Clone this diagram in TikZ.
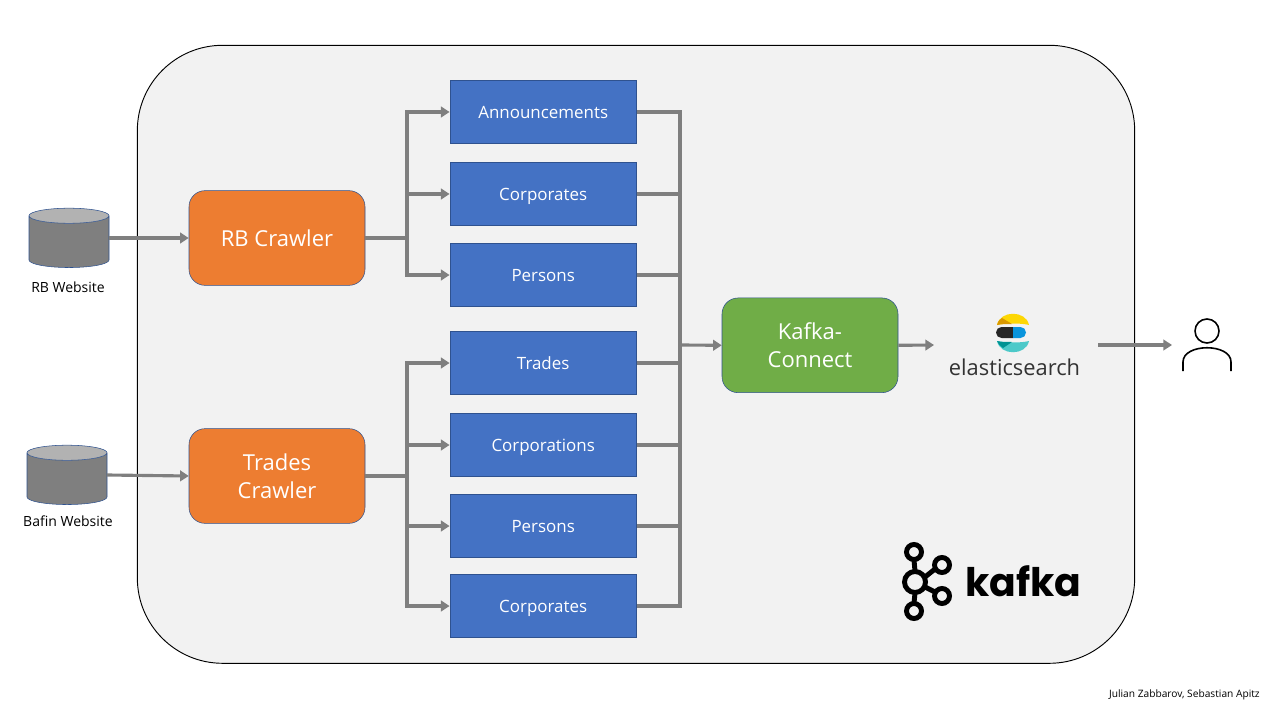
\documentclass[tikz,border=0pt]{standalone}
\usepackage{fontspec}
\setmainfont{Open Sans}
\newfontfamily\logofont{Poppins}
\usetikzlibrary{shapes,arrows.meta}
\definecolor{topicblue}{HTML}{4472C4}
\definecolor{edgeblue}{HTML}{2F528F}
\definecolor{crawlerorange}{HTML}{ED7D31}
\definecolor{connectgreen}{HTML}{70AD47}
\definecolor{flowgray}{HTML}{7F7F7F}
\definecolor{panelgray}{HTML}{F2F2F2}
\tikzstyle{flow} = [draw=flowgray,line width=2.35pt,-{Triangle[length=6.5pt,width=8pt]}]
\tikzstyle{wire} = [draw=flowgray,line width=2.35pt]
\tikzstyle{trunk} = [draw=flowgray,line width=3.4pt]

\begin{document}
\begin{tikzpicture}
		[
		x=0.75pt,y=-0.75pt,
		topic/.style={
		draw=edgeblue,
		fill=topicblue,
		rectangle,
		minimum width=140pt,
		minimum height=47pt,
		text=white,
		text height=9.5pt,
		text depth=0pt,
		font=\fontsize{12.7}{15}\selectfont},
		crawler/.style={
		draw=edgeblue,
		fill=crawlerorange,
		rectangle,
		rounded corners=12pt,
		minimum width=132pt,
		minimum height=71pt,
		align=center,
		text=white,
		font=\fontsize{16.5}{21}\selectfont},
		website/.style={
		draw=edgeblue,
		cylinder,
		shape border rotate=90,
		aspect=1.7,
		cylinder uses custom fill,
		cylinder body fill=flowgray,
		cylinder end fill=black!30,
		minimum width=60pt,
		minimum height=44.5pt},
		caption/.style={font=\fontsize{10.5}{12}\selectfont}
		]
		\useasboundingbox (0,0) rectangle (1280,720);
		\node[draw=black,fill=panelgray,rectangle,rounded corners=64pt,minimum width=748pt,minimum height=463.5pt,line width=0.7pt](panel) at (636,354.3) {};

		\node[website](rbsite) at (69,243.5) {};
		\node[website](bafinsite) at (67,480.5) {};
		\node[caption](rblabel) at (68,287.5) {RB Website};
		\node[caption](bafinlabel) at (68,521.5) {Bafin Website};

		\node[crawler](rb) at (277,238) {RB Crawler};
		\node[crawler](trades) at (277,476) {Trades\\Crawler};

		\node[topic](announcements) at (543.2,112) {Announcements};
		\node[topic](corporates) at (543.2,194) {Corporates};
		\node[topic](persons) at (543.2,275) {Persons};
		\node[topic](tradestopic) at (543.2,363) {Trades};
		\node[topic](corporations) at (543.2,445) {Corporations};
		\node[topic](personstwo) at (543.2,526) {Persons};
		\node[topic](corporatestwo) at (543.2,606) {Corporates};

		\node[crawler,fill=connectgreen](connect) at (810,345.3) {Kafka-\\Connect};

		% elasticsearch logo
		\node[inner sep=0pt,text=black!80,font=\fontsize{16.4}{20}\selectfont](elastic) at (1014.5,367) {elasticsearch};
		\coordinate (elasticin) at (934,345);
		\coordinate (elasticout) at (1098,345);
		\fill[yellow!75!orange] (997,325) .. controls (1000,310) and (1026,310) .. (1029,325) .. controls (1022,323) and (1004,323) .. (997,325) -- cycle;
		\fill[orange!60!yellow!85!black] (997,325) .. controls (998,321) and (1000,319) .. (1002,318) -- (1012,324) .. controls (1006,324) and (1001,324) .. (997,325) -- cycle;
		\fill[black!85] (1001.5,327) -- (1013,327) -- (1013,338) -- (1001.5,338) arc (90:270:5.5) -- cycle;
		\fill[cyan!80!blue] (1013,327) -- (1020.5,327) arc (270:450:5.5) -- (1013,338) -- cycle;
		\fill[teal!60!cyan!70!white] (997,341) .. controls (1004,343) and (1022,343) .. (1029,341) .. controls (1026,356) and (1000,356) .. (997,341) -- cycle;
		\fill[teal!85!cyan] (997,341) .. controls (1001,342) and (1006,342) .. (1012,342) -- (1003,348) .. controls (1000,346) and (998,344) .. (997,341) -- cycle;

		% kafka logo
		\draw[line width=3.7pt] (914,552) circle (7.5) (914,611) circle (7.5) (942,565) circle (7.5) (942,596) circle (7.5) (915,582) circle (10.5);
		\draw[line width=3.7pt] (914,560) -- (915,571) (914,603) -- (915,593) (935,569) -- (925,577) (935,592) -- (925,587);
		\node[inner sep=0pt,font=\logofont\bfseries\fontsize{29.5}{32}\selectfont](kafka) at (1023.5,581) {kafka};

		% user
		\coordinate (userin) at (1172,345);
		\draw[line width=1.2pt] (1207,331) circle (12);
		\draw[line width=1.2pt] (1183,371) -- (1183,362) .. controls (1183,343) and (1231,343) .. (1231,362) -- (1231,371);

		\node[anchor=east,inner sep=0pt,font=\fontsize{7.65}{9}\selectfont](credit) at (1260,695) {Julian Zabbarov, Sebastian Apitz};

		% crawler to topics
		\coordinate (bafinout) at (107,475);
		\coordinate (rbbus) at (407,238);
		\coordinate (tradesbus) at (407,476);
		\coordinate (sinkbus) at (680,345);
		\draw[flow] (rbsite.east |- rb.west) -- (rb.west);
		\draw[flow] (bafinout) -- (trades.west);
		\draw[trunk] (rb.east) -- (rbbus);
		\draw[trunk] (trades.east) -- (tradesbus);
		\draw[flow] (rbbus) |- (announcements.west);
		\draw[flow] (rbbus) |- (corporates.west);
		\draw[flow] (rbbus) |- (persons.west);
		\draw[flow] (tradesbus) |- (tradestopic.west);
		\draw[flow] (tradesbus) |- (corporations.west);
		\draw[flow] (tradesbus) |- (personstwo.west);
		\draw[flow] (tradesbus) |- (corporatestwo.west);

		% topics to connect
		\draw[wire] (announcements.east) -| (sinkbus);
		\draw[wire] (corporates.east) -| (sinkbus);
		\draw[wire] (persons.east) -| (sinkbus);
		\draw[wire] (tradestopic.east) -| (sinkbus);
		\draw[wire] (corporations.east) -| (sinkbus);
		\draw[wire] (personstwo.east) -| (sinkbus);
		\draw[wire] (corporatestwo.east) -| (sinkbus);
		\draw[flow] (sinkbus) -- (connect.west);
		\draw[flow] (connect.east) -- (elasticin);
		\draw[flow] (elasticout) -- (userin);
		\end{tikzpicture}
\end{document}
